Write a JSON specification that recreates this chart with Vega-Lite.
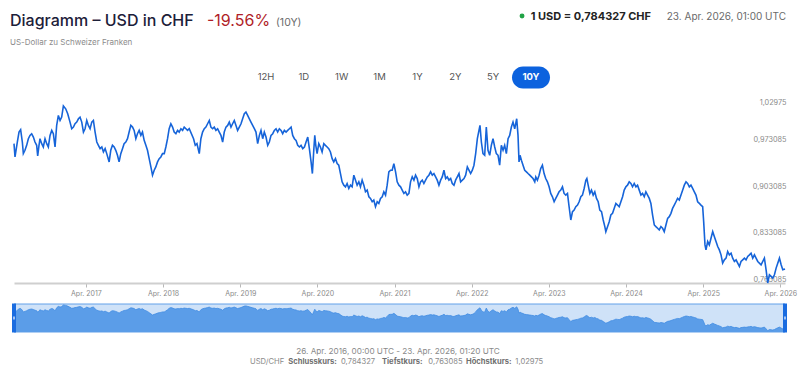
{
  "$schema": "https://vega.github.io/schema/vega-lite/v6.json",
  "width": 771,
  "height": 177,
  "autosize": {"type": "none"},
  "padding": {"left": 14, "top": 106, "right": 15, "bottom": 90},
  "background": "white",
  "config": {"view": {"stroke": null}, "font": "Inter"},
  "datasets": {
    "fx": [
      {"year": 2016.315, "rate": 0.9730}, {"year": 2016.328, "rate": 0.9530}, {"year": 2016.358, "rate": 0.9755}, {"year": 2016.380, "rate": 0.9905},
      {"year": 2016.401, "rate": 0.9940}, {"year": 2016.423, "rate": 0.9755}, {"year": 2016.436, "rate": 0.9580}, {"year": 2016.457, "rate": 0.9630},
      {"year": 2016.479, "rate": 0.9705}, {"year": 2016.501, "rate": 0.9805}, {"year": 2016.522, "rate": 0.9855}, {"year": 2016.544, "rate": 0.9880},
      {"year": 2016.566, "rate": 0.9830}, {"year": 2016.587, "rate": 0.9755}, {"year": 2016.609, "rate": 0.9705}, {"year": 2016.622, "rate": 0.9545},
      {"year": 2016.639, "rate": 0.9705}, {"year": 2016.652, "rate": 0.9805}, {"year": 2016.674, "rate": 0.9730}, {"year": 2016.695, "rate": 0.9680},
      {"year": 2016.717, "rate": 0.9805}, {"year": 2016.739, "rate": 0.9730}, {"year": 2016.760, "rate": 0.9680}, {"year": 2016.782, "rate": 0.9855},
      {"year": 2016.804, "rate": 0.9930}, {"year": 2016.825, "rate": 0.9880}, {"year": 2016.847, "rate": 0.9680}, {"year": 2016.868, "rate": 1.0005},
      {"year": 2016.890, "rate": 1.0155}, {"year": 2016.912, "rate": 1.0080}, {"year": 2016.933, "rate": 1.0130}, {"year": 2016.955, "rate": 1.02975},
      {"year": 2016.985, "rate": 1.0255}, {"year": 2017.011, "rate": 1.0180}, {"year": 2017.041, "rate": 1.0055}, {"year": 2017.063, "rate": 0.9955},
      {"year": 2017.085, "rate": 0.9980}, {"year": 2017.106, "rate": 1.0030}, {"year": 2017.128, "rate": 1.0055}, {"year": 2017.150, "rate": 1.0105},
      {"year": 2017.171, "rate": 1.0130}, {"year": 2017.193, "rate": 1.0055}, {"year": 2017.215, "rate": 0.9905}, {"year": 2017.236, "rate": 0.9955},
      {"year": 2017.258, "rate": 1.0080}, {"year": 2017.279, "rate": 1.0005}, {"year": 2017.301, "rate": 0.9955}, {"year": 2017.323, "rate": 1.0055},
      {"year": 2017.344, "rate": 1.0080}, {"year": 2017.366, "rate": 0.9905}, {"year": 2017.388, "rate": 0.9755}, {"year": 2017.409, "rate": 0.9705},
      {"year": 2017.431, "rate": 0.9655}, {"year": 2017.453, "rate": 0.9680}, {"year": 2017.474, "rate": 0.9605}, {"year": 2017.496, "rate": 0.9655},
      {"year": 2017.517, "rate": 0.9580}, {"year": 2017.548, "rate": 0.9455}, {"year": 2017.569, "rate": 0.9630}, {"year": 2017.591, "rate": 0.9705},
      {"year": 2017.613, "rate": 0.9680}, {"year": 2017.634, "rate": 0.9630}, {"year": 2017.656, "rate": 0.9555}, {"year": 2017.677, "rate": 0.9455},
      {"year": 2017.699, "rate": 0.9580}, {"year": 2017.721, "rate": 0.9655}, {"year": 2017.742, "rate": 0.9730}, {"year": 2017.764, "rate": 0.9755},
      {"year": 2017.786, "rate": 0.9805}, {"year": 2017.807, "rate": 0.9905}, {"year": 2017.829, "rate": 1.0005}, {"year": 2017.851, "rate": 0.9980},
      {"year": 2017.872, "rate": 0.9930}, {"year": 2017.894, "rate": 0.9805}, {"year": 2017.915, "rate": 0.9880}, {"year": 2017.937, "rate": 0.9930},
      {"year": 2017.959, "rate": 0.9855}, {"year": 2017.980, "rate": 0.9905}, {"year": 2018.002, "rate": 0.9780}, {"year": 2018.024, "rate": 0.9705},
      {"year": 2018.045, "rate": 0.9630}, {"year": 2018.067, "rate": 0.9505}, {"year": 2018.089, "rate": 0.9380}, {"year": 2018.110, "rate": 0.9255},
      {"year": 2018.132, "rate": 0.9330}, {"year": 2018.153, "rate": 0.9380}, {"year": 2018.175, "rate": 0.9455}, {"year": 2018.197, "rate": 0.9505},
      {"year": 2018.218, "rate": 0.9530}, {"year": 2018.240, "rate": 0.9580}, {"year": 2018.262, "rate": 0.9580}, {"year": 2018.283, "rate": 0.9680},
      {"year": 2018.305, "rate": 0.9805}, {"year": 2018.326, "rate": 0.9955}, {"year": 2018.348, "rate": 1.0030}, {"year": 2018.370, "rate": 0.9980},
      {"year": 2018.391, "rate": 0.9905}, {"year": 2018.413, "rate": 0.9880}, {"year": 2018.435, "rate": 0.9930}, {"year": 2018.456, "rate": 0.9905},
      {"year": 2018.478, "rate": 0.9955}, {"year": 2018.500, "rate": 0.9930}, {"year": 2018.521, "rate": 0.9980}, {"year": 2018.543, "rate": 0.9955},
      {"year": 2018.564, "rate": 0.9930}, {"year": 2018.586, "rate": 0.9955}, {"year": 2018.642, "rate": 0.9805}, {"year": 2018.664, "rate": 0.9705},
      {"year": 2018.686, "rate": 0.9730}, {"year": 2018.716, "rate": 0.9580}, {"year": 2018.737, "rate": 0.9805}, {"year": 2018.759, "rate": 0.9905},
      {"year": 2018.781, "rate": 0.9955}, {"year": 2018.802, "rate": 0.9980}, {"year": 2018.824, "rate": 1.0030}, {"year": 2018.846, "rate": 1.0080},
      {"year": 2018.867, "rate": 0.9980}, {"year": 2018.889, "rate": 0.9955}, {"year": 2018.910, "rate": 0.9980}, {"year": 2018.932, "rate": 0.9930},
      {"year": 2018.954, "rate": 0.9955}, {"year": 2018.975, "rate": 0.9905}, {"year": 2018.997, "rate": 0.9855}, {"year": 2019.019, "rate": 0.9755},
      {"year": 2019.040, "rate": 0.9905}, {"year": 2019.062, "rate": 0.9980}, {"year": 2019.084, "rate": 1.0005}, {"year": 2019.105, "rate": 1.0055},
      {"year": 2019.127, "rate": 0.9980}, {"year": 2019.148, "rate": 1.0030}, {"year": 2019.170, "rate": 1.0080}, {"year": 2019.192, "rate": 1.0005},
      {"year": 2019.213, "rate": 0.9930}, {"year": 2019.235, "rate": 0.9980}, {"year": 2019.257, "rate": 1.0030}, {"year": 2019.278, "rate": 1.0105},
      {"year": 2019.300, "rate": 1.0180}, {"year": 2019.321, "rate": 1.0205}, {"year": 2019.343, "rate": 1.0155}, {"year": 2019.365, "rate": 1.0105},
      {"year": 2019.386, "rate": 1.0055}, {"year": 2019.408, "rate": 1.0005}, {"year": 2019.430, "rate": 0.9955}, {"year": 2019.451, "rate": 0.9905},
      {"year": 2019.473, "rate": 0.9730}, {"year": 2019.495, "rate": 0.9855}, {"year": 2019.516, "rate": 0.9930}, {"year": 2019.538, "rate": 0.9805},
      {"year": 2019.559, "rate": 0.9905}, {"year": 2019.581, "rate": 0.9830}, {"year": 2019.603, "rate": 0.9705}, {"year": 2019.624, "rate": 0.9755},
      {"year": 2019.646, "rate": 0.9855}, {"year": 2019.668, "rate": 0.9880}, {"year": 2019.689, "rate": 0.9930}, {"year": 2019.711, "rate": 0.9955},
      {"year": 2019.732, "rate": 0.9905}, {"year": 2019.754, "rate": 0.9955}, {"year": 2019.776, "rate": 0.9930}, {"year": 2019.797, "rate": 0.9880},
      {"year": 2019.819, "rate": 0.9930}, {"year": 2019.841, "rate": 0.9905}, {"year": 2019.862, "rate": 0.9930}, {"year": 2019.884, "rate": 0.9955},
      {"year": 2019.906, "rate": 0.9980}, {"year": 2019.927, "rate": 0.9855}, {"year": 2019.949, "rate": 0.9805}, {"year": 2019.970, "rate": 0.9780},
      {"year": 2019.992, "rate": 0.9705}, {"year": 2020.014, "rate": 0.9680}, {"year": 2020.035, "rate": 0.9705}, {"year": 2020.057, "rate": 0.9655},
      {"year": 2020.079, "rate": 0.9680}, {"year": 2020.100, "rate": 0.9755}, {"year": 2020.122, "rate": 0.9830}, {"year": 2020.143, "rate": 0.9655},
      {"year": 2020.165, "rate": 0.9455}, {"year": 2020.182, "rate": 0.9280}, {"year": 2020.200, "rate": 0.9630}, {"year": 2020.213, "rate": 0.9855},
      {"year": 2020.226, "rate": 0.9705}, {"year": 2020.243, "rate": 0.9580}, {"year": 2020.265, "rate": 0.9730}, {"year": 2020.286, "rate": 0.9680},
      {"year": 2020.308, "rate": 0.9605}, {"year": 2020.330, "rate": 0.9730}, {"year": 2020.351, "rate": 0.9705}, {"year": 2020.373, "rate": 0.9680},
      {"year": 2020.394, "rate": 0.9655}, {"year": 2020.416, "rate": 0.9605}, {"year": 2020.438, "rate": 0.9505}, {"year": 2020.459, "rate": 0.9455},
      {"year": 2020.481, "rate": 0.9505}, {"year": 2020.503, "rate": 0.9430}, {"year": 2020.524, "rate": 0.9405}, {"year": 2020.546, "rate": 0.9280},
      {"year": 2020.567, "rate": 0.9155}, {"year": 2020.589, "rate": 0.9105}, {"year": 2020.611, "rate": 0.9080}, {"year": 2020.632, "rate": 0.9130},
      {"year": 2020.654, "rate": 0.9055}, {"year": 2020.676, "rate": 0.9105}, {"year": 2020.697, "rate": 0.9080}, {"year": 2020.719, "rate": 0.9255},
      {"year": 2020.741, "rate": 0.9180}, {"year": 2020.762, "rate": 0.9105}, {"year": 2020.784, "rate": 0.9155}, {"year": 2020.805, "rate": 0.9080},
      {"year": 2020.827, "rate": 0.9180}, {"year": 2020.849, "rate": 0.9105}, {"year": 2020.870, "rate": 0.9005}, {"year": 2020.892, "rate": 0.9030},
      {"year": 2020.914, "rate": 0.8930}, {"year": 2020.935, "rate": 0.8905}, {"year": 2020.957, "rate": 0.8855}, {"year": 2020.978, "rate": 0.8880},
      {"year": 2021.000, "rate": 0.8780}, {"year": 2021.022, "rate": 0.8855}, {"year": 2021.043, "rate": 0.8830}, {"year": 2021.065, "rate": 0.8905},
      {"year": 2021.087, "rate": 0.8930}, {"year": 2021.108, "rate": 0.9005}, {"year": 2021.130, "rate": 0.8955}, {"year": 2021.151, "rate": 0.9105},
      {"year": 2021.173, "rate": 0.9305}, {"year": 2021.195, "rate": 0.9330}, {"year": 2021.216, "rate": 0.9330}, {"year": 2021.238, "rate": 0.9430},
      {"year": 2021.260, "rate": 0.9305}, {"year": 2021.281, "rate": 0.9155}, {"year": 2021.303, "rate": 0.9105}, {"year": 2021.325, "rate": 0.9080},
      {"year": 2021.346, "rate": 0.9030}, {"year": 2021.368, "rate": 0.8980}, {"year": 2021.389, "rate": 0.9005}, {"year": 2021.411, "rate": 0.8955},
      {"year": 2021.433, "rate": 0.8980}, {"year": 2021.454, "rate": 0.9155}, {"year": 2021.476, "rate": 0.9230}, {"year": 2021.498, "rate": 0.9180},
      {"year": 2021.519, "rate": 0.9255}, {"year": 2021.541, "rate": 0.9205}, {"year": 2021.563, "rate": 0.9080}, {"year": 2021.584, "rate": 0.9155},
      {"year": 2021.606, "rate": 0.9180}, {"year": 2021.627, "rate": 0.9130}, {"year": 2021.649, "rate": 0.9180}, {"year": 2021.671, "rate": 0.9230},
      {"year": 2021.692, "rate": 0.9255}, {"year": 2021.714, "rate": 0.9305}, {"year": 2021.736, "rate": 0.9255}, {"year": 2021.757, "rate": 0.9280},
      {"year": 2021.779, "rate": 0.9230}, {"year": 2021.800, "rate": 0.9180}, {"year": 2021.822, "rate": 0.9105}, {"year": 2021.844, "rate": 0.9180},
      {"year": 2021.865, "rate": 0.9230}, {"year": 2021.887, "rate": 0.9330}, {"year": 2021.909, "rate": 0.9205}, {"year": 2021.930, "rate": 0.9230},
      {"year": 2021.952, "rate": 0.9180}, {"year": 2021.974, "rate": 0.9205}, {"year": 2021.995, "rate": 0.9130}, {"year": 2022.017, "rate": 0.9105},
      {"year": 2022.038, "rate": 0.9180}, {"year": 2022.060, "rate": 0.9230}, {"year": 2022.082, "rate": 0.9280}, {"year": 2022.103, "rate": 0.9155},
      {"year": 2022.125, "rate": 0.9180}, {"year": 2022.147, "rate": 0.9205}, {"year": 2022.168, "rate": 0.9255}, {"year": 2022.190, "rate": 0.9380},
      {"year": 2022.211, "rate": 0.9330}, {"year": 2022.233, "rate": 0.9280}, {"year": 2022.255, "rate": 0.9330}, {"year": 2022.276, "rate": 0.9405},
      {"year": 2022.298, "rate": 0.9580}, {"year": 2022.320, "rate": 0.9805}, {"year": 2022.341, "rate": 0.9930}, {"year": 2022.354, "rate": 1.0005},
      {"year": 2022.372, "rate": 0.9755}, {"year": 2022.393, "rate": 0.9580}, {"year": 2022.415, "rate": 0.9555}, {"year": 2022.436, "rate": 0.9980},
      {"year": 2022.458, "rate": 0.9630}, {"year": 2022.480, "rate": 0.9555}, {"year": 2022.501, "rate": 0.9705}, {"year": 2022.523, "rate": 0.9805},
      {"year": 2022.545, "rate": 0.9680}, {"year": 2022.566, "rate": 0.9580}, {"year": 2022.588, "rate": 0.9555}, {"year": 2022.609, "rate": 0.9405},
      {"year": 2022.631, "rate": 0.9705}, {"year": 2022.653, "rate": 0.9630}, {"year": 2022.674, "rate": 0.9705}, {"year": 2022.696, "rate": 0.9580},
      {"year": 2022.718, "rate": 0.9805}, {"year": 2022.739, "rate": 0.9855}, {"year": 2022.761, "rate": 0.9980}, {"year": 2022.782, "rate": 1.0055},
      {"year": 2022.804, "rate": 0.9955}, {"year": 2022.817, "rate": 1.0030}, {"year": 2022.830, "rate": 1.0105}, {"year": 2022.847, "rate": 0.9855},
      {"year": 2022.860, "rate": 0.9455}, {"year": 2022.873, "rate": 0.9555}, {"year": 2022.891, "rate": 0.9480}, {"year": 2022.912, "rate": 0.9405},
      {"year": 2022.934, "rate": 0.9330}, {"year": 2022.956, "rate": 0.9305}, {"year": 2022.977, "rate": 0.9280}, {"year": 2022.999, "rate": 0.9255},
      {"year": 2023.021, "rate": 0.9230}, {"year": 2023.042, "rate": 0.9205}, {"year": 2023.064, "rate": 0.9155}, {"year": 2023.077, "rate": 0.9230},
      {"year": 2023.098, "rate": 0.9180}, {"year": 2023.120, "rate": 0.9255}, {"year": 2023.141, "rate": 0.9355}, {"year": 2023.163, "rate": 0.9405},
      {"year": 2023.185, "rate": 0.9280}, {"year": 2023.206, "rate": 0.9205}, {"year": 2023.228, "rate": 0.9155}, {"year": 2023.250, "rate": 0.9080},
      {"year": 2023.271, "rate": 0.8980}, {"year": 2023.293, "rate": 0.8930}, {"year": 2023.315, "rate": 0.8855}, {"year": 2023.336, "rate": 0.8905},
      {"year": 2023.358, "rate": 0.8955}, {"year": 2023.379, "rate": 0.9005}, {"year": 2023.401, "rate": 0.9030}, {"year": 2023.423, "rate": 0.9080},
      {"year": 2023.444, "rate": 0.8980}, {"year": 2023.466, "rate": 0.8955}, {"year": 2023.488, "rate": 0.8980}, {"year": 2023.509, "rate": 0.8780},
      {"year": 2023.531, "rate": 0.8580}, {"year": 2023.553, "rate": 0.8705}, {"year": 2023.574, "rate": 0.8730}, {"year": 2023.596, "rate": 0.8780},
      {"year": 2023.618, "rate": 0.8805}, {"year": 2023.639, "rate": 0.8855}, {"year": 2023.661, "rate": 0.8930}, {"year": 2023.682, "rate": 0.8955},
      {"year": 2023.704, "rate": 0.9055}, {"year": 2023.726, "rate": 0.9180}, {"year": 2023.739, "rate": 0.9205}, {"year": 2023.756, "rate": 0.9105},
      {"year": 2023.778, "rate": 0.8980}, {"year": 2023.799, "rate": 0.9030}, {"year": 2023.821, "rate": 0.8955}, {"year": 2023.842, "rate": 0.9005},
      {"year": 2023.864, "rate": 0.8905}, {"year": 2023.886, "rate": 0.8855}, {"year": 2023.907, "rate": 0.8730}, {"year": 2023.929, "rate": 0.8705},
      {"year": 2023.951, "rate": 0.8580}, {"year": 2023.972, "rate": 0.8480}, {"year": 2023.985, "rate": 0.8405}, {"year": 2024.007, "rate": 0.8480},
      {"year": 2024.029, "rate": 0.8555}, {"year": 2024.050, "rate": 0.8655}, {"year": 2024.072, "rate": 0.8680}, {"year": 2024.093, "rate": 0.8755},
      {"year": 2024.115, "rate": 0.8830}, {"year": 2024.137, "rate": 0.8805}, {"year": 2024.158, "rate": 0.8780}, {"year": 2024.180, "rate": 0.8855},
      {"year": 2024.202, "rate": 0.8930}, {"year": 2024.223, "rate": 0.9030}, {"year": 2024.245, "rate": 0.9080}, {"year": 2024.266, "rate": 0.9105},
      {"year": 2024.288, "rate": 0.9155}, {"year": 2024.310, "rate": 0.9130}, {"year": 2024.331, "rate": 0.9080}, {"year": 2024.353, "rate": 0.9130},
      {"year": 2024.375, "rate": 0.9080}, {"year": 2024.396, "rate": 0.9105}, {"year": 2024.418, "rate": 0.9030}, {"year": 2024.440, "rate": 0.8955},
      {"year": 2024.461, "rate": 0.8980}, {"year": 2024.483, "rate": 0.8930}, {"year": 2024.504, "rate": 0.9005}, {"year": 2024.526, "rate": 0.8955},
      {"year": 2024.548, "rate": 0.8905}, {"year": 2024.569, "rate": 0.8830}, {"year": 2024.591, "rate": 0.8655}, {"year": 2024.613, "rate": 0.8505},
      {"year": 2024.634, "rate": 0.8480}, {"year": 2024.656, "rate": 0.8455}, {"year": 2024.677, "rate": 0.8430}, {"year": 2024.699, "rate": 0.8480},
      {"year": 2024.721, "rate": 0.8455}, {"year": 2024.742, "rate": 0.8405}, {"year": 2024.764, "rate": 0.8505}, {"year": 2024.786, "rate": 0.8605},
      {"year": 2024.807, "rate": 0.8630}, {"year": 2024.829, "rate": 0.8680}, {"year": 2024.850, "rate": 0.8755}, {"year": 2024.872, "rate": 0.8805},
      {"year": 2024.894, "rate": 0.8855}, {"year": 2024.915, "rate": 0.8905}, {"year": 2024.937, "rate": 0.8880}, {"year": 2024.959, "rate": 0.8955},
      {"year": 2024.980, "rate": 0.9030}, {"year": 2025.002, "rate": 0.9105}, {"year": 2025.024, "rate": 0.9155}, {"year": 2025.045, "rate": 0.9130},
      {"year": 2025.067, "rate": 0.9080}, {"year": 2025.088, "rate": 0.9105}, {"year": 2025.110, "rate": 0.9055}, {"year": 2025.132, "rate": 0.9005},
      {"year": 2025.153, "rate": 0.8955}, {"year": 2025.175, "rate": 0.8855}, {"year": 2025.197, "rate": 0.8830}, {"year": 2025.218, "rate": 0.8805},
      {"year": 2025.240, "rate": 0.8780}, {"year": 2025.253, "rate": 0.8555}, {"year": 2025.270, "rate": 0.8205}, {"year": 2025.283, "rate": 0.8130},
      {"year": 2025.305, "rate": 0.8255}, {"year": 2025.326, "rate": 0.8205}, {"year": 2025.348, "rate": 0.8305}, {"year": 2025.370, "rate": 0.8405},
      {"year": 2025.391, "rate": 0.8330}, {"year": 2025.413, "rate": 0.8255}, {"year": 2025.435, "rate": 0.8180}, {"year": 2025.456, "rate": 0.8130},
      {"year": 2025.478, "rate": 0.8055}, {"year": 2025.499, "rate": 0.7930}, {"year": 2025.521, "rate": 0.7980}, {"year": 2025.543, "rate": 0.8005},
      {"year": 2025.564, "rate": 0.8105}, {"year": 2025.586, "rate": 0.8055}, {"year": 2025.608, "rate": 0.8080}, {"year": 2025.629, "rate": 0.8005},
      {"year": 2025.651, "rate": 0.7955}, {"year": 2025.673, "rate": 0.7980}, {"year": 2025.694, "rate": 0.7930}, {"year": 2025.716, "rate": 0.7880},
      {"year": 2025.737, "rate": 0.7955}, {"year": 2025.759, "rate": 0.7980}, {"year": 2025.781, "rate": 0.8005}, {"year": 2025.802, "rate": 0.7980},
      {"year": 2025.824, "rate": 0.8030}, {"year": 2025.846, "rate": 0.8055}, {"year": 2025.867, "rate": 0.8080}, {"year": 2025.889, "rate": 0.8005},
      {"year": 2025.911, "rate": 0.8055}, {"year": 2025.932, "rate": 0.8005}, {"year": 2025.954, "rate": 0.7955}, {"year": 2025.975, "rate": 0.7930},
      {"year": 2025.997, "rate": 0.7905}, {"year": 2026.019, "rate": 0.7955}, {"year": 2026.040, "rate": 0.8005}, {"year": 2026.062, "rate": 0.7830},
      {"year": 2026.083, "rate": 0.763085}, {"year": 2026.105, "rate": 0.7755}, {"year": 2026.127, "rate": 0.7730}, {"year": 2026.148, "rate": 0.7705},
      {"year": 2026.170, "rate": 0.7755}, {"year": 2026.192, "rate": 0.7855}, {"year": 2026.213, "rate": 0.7930}, {"year": 2026.235, "rate": 0.8005},
      {"year": 2026.257, "rate": 0.7905}, {"year": 2026.278, "rate": 0.7830}, {"year": 2026.307, "rate": 0.784327}
    ],
    "labels": [
      {"item": "title", "text": "Diagramm – USD in CHF"},
      {"item": "subtitle", "text": "US-Dollar zu Schweizer Franken"},
      {"item": "change", "text": "-19.56%"},
      {"item": "period", "text": "(10Y)"},
      {"item": "quote", "text": "1 USD = 0,784327 CHF"},
      {"item": "time", "text": "23. Apr. 2026, 01:00 UTC"},
      {"item": "span", "text": "26. Apr. 2016, 00:00 UTC - 23. Apr. 2026, 01:20 UTC"},
      {"item": "pair", "text": "USD/CHF"},
      {"item": "closeLabel", "text": "Schlusskurs:"},
      {"item": "closeValue", "text": "0,784327"},
      {"item": "lowLabel", "text": "Tiefstkurs:"},
      {"item": "lowValue", "text": "0,763085"},
      {"item": "highLabel", "text": "Höchstkurs:"},
      {"item": "highValue", "text": "1,02975"}
    ],
    "ranges": [
      {"label": "12H"}, {"label": "1D"}, {"label": "1W"}, {"label": "1M"},
      {"label": "1Y"}, {"label": "2Y"}, {"label": "5Y"}, {"label": "10Y"}
    ]
  },
  "resolve": {"scale": {"x": "independent", "y": "independent"}},
  "layer": [
    {
      "layer": [
        {
          "data": {"name": "fx"},
          "mark": {"type": "line", "color": "#1664d9", "strokeWidth": 1.6},
          "encoding": {
            "x": {
              "field": "year", "type": "quantitative",
              "scale": {"domain": [2016.315, 2026.307], "nice": false, "zero": false},
              "axis": {
                "values": [2017.247, 2018.247, 2019.247, 2020.247, 2021.247, 2022.247, 2023.247, 2024.247, 2025.247, 2026.247],
                "labelExpr": "'Apr. ' + floor(datum.value)",
                "title": null, "grid": false,
                "domainColor": "#cfcfcf", "domainWidth": 2,
                "tickColor": "#b8b8b8", "tickSize": 4, "tickWidth": 1,
                "labelColor": "#8a8a8a", "labelFontSize": 7, "labelPadding": 2, "labelFlush": false
              }
            },
            "y": {
              "field": "rate", "type": "quantitative",
              "scale": {"domain": [0.763085, 1.02975], "nice": false, "zero": false},
              "axis": {
                "orient": "right",
                "values": [0.763085, 0.833085, 0.903085, 0.973085, 1.02975],
                "labelExpr": "replace(format(datum.value, '.6~f'), '.', ',')",
                "title": null, "grid": false, "domain": false, "ticks": false,
                "labelAlign": "right", "labelBaseline": "bottom", "labelPadding": 1,
                "labelColor": "#8a8a8a", "labelFontSize": 7.3
              }
            }
          }
        },
        {
          "data": {"name": "labels"},
          "transform": [{"filter": "datum.item === 'title'"}],
          "mark": {"type": "text", "align": "left", "baseline": "alphabetic", "fontSize": 16, "fontWeight": 500, "color": "#1c2039"},
          "encoding": {
            "x": {"datum": 2016.263, "type": "quantitative"},
            "y": {"datum": 1.15028, "type": "quantitative"},
            "text": {"field": "text"}
          }
        },
        {
          "data": {"name": "labels"},
          "transform": [{"filter": "datum.item === 'subtitle'"}],
          "mark": {"type": "text", "align": "left", "baseline": "alphabetic", "fontSize": 8, "color": "#8c8c8c"},
          "encoding": {
            "x": {"datum": 2016.263, "type": "quantitative"},
            "y": {"datum": 1.12195, "type": "quantitative"},
            "text": {"field": "text"}
          }
        },
        {
          "data": {"name": "labels"},
          "transform": [{"filter": "datum.item === 'change'"}],
          "mark": {"type": "text", "align": "left", "baseline": "alphabetic", "fontSize": 16, "color": "#b01e28"},
          "encoding": {
            "x": {"datum": 2018.816, "type": "quantitative"},
            "y": {"datum": 1.15028, "type": "quantitative"},
            "text": {"field": "text"}
          }
        },
        {
          "data": {"name": "labels"},
          "transform": [{"filter": "datum.item === 'period'"}],
          "mark": {"type": "text", "align": "left", "baseline": "alphabetic", "fontSize": 10.5, "color": "#6b6b6b"},
          "encoding": {
            "x": {"datum": 2019.711, "type": "quantitative"},
            "y": {"datum": 1.15028, "type": "quantitative"},
            "text": {"field": "text"}
          }
        },
        {
          "data": {"name": "labels"},
          "transform": [{"filter": "datum.item === 'quote'"}],
          "mark": {"type": "circle", "size": 24, "color": "#21a346", "opacity": 1},
          "encoding": {
            "x": {"datum": 2022.899, "type": "quantitative"},
            "y": {"datum": 1.16534, "type": "quantitative"}
          }
        },
        {
          "data": {"name": "labels"},
          "transform": [{"filter": "datum.item === 'quote'"}],
          "mark": {"type": "text", "align": "right", "baseline": "alphabetic", "fontSize": 11, "fontWeight": "bold", "color": "#232323"},
          "encoding": {
            "x": {"datum": 2024.571, "type": "quantitative"},
            "y": {"datum": 1.15932, "type": "quantitative"},
            "text": {"field": "text"}
          }
        },
        {
          "data": {"name": "labels"},
          "transform": [{"filter": "datum.item === 'time'"}],
          "mark": {"type": "text", "align": "right", "baseline": "alphabetic", "fontSize": 10, "color": "#6a6a6a"},
          "encoding": {
            "x": {"datum": 2026.320, "type": "quantitative"},
            "y": {"datum": 1.15932, "type": "quantitative"},
            "text": {"field": "text"}
          }
        },
        {
          "data": {"name": "labels"},
          "transform": [{"filter": "datum.item === 'span'"}],
          "mark": {"type": "text", "align": "center", "baseline": "alphabetic", "fontSize": 8.2, "color": "#8a8a8a"},
          "encoding": {
            "x": {"datum": 2021.292, "type": "quantitative"},
            "y": {"datum": 0.65687, "type": "quantitative"},
            "text": {"field": "text"}
          }
        },
        {
          "data": {"name": "labels"},
          "transform": [{"filter": "datum.item === 'pair'"}],
          "mark": {"type": "text", "align": "left", "baseline": "alphabetic", "fontSize": 7.6, "color": "#8a8a8a"},
          "encoding": {"x": {"datum": 2019.374, "type": "quantitative"}, "y": {"datum": 0.64105, "type": "quantitative"}, "text": {"field": "text"}}
        },
        {
          "data": {"name": "labels"},
          "transform": [{"filter": "datum.item === 'closeLabel'"}],
          "mark": {"type": "text", "align": "left", "baseline": "alphabetic", "fontSize": 7.6, "fontWeight": "bold", "color": "#6f6f6f"},
          "encoding": {"x": {"datum": 2019.870, "type": "quantitative"}, "y": {"datum": 0.64105, "type": "quantitative"}, "text": {"field": "text"}}
        },
        {
          "data": {"name": "labels"},
          "transform": [{"filter": "datum.item === 'closeValue'"}],
          "mark": {"type": "text", "align": "left", "baseline": "alphabetic", "fontSize": 7.6, "color": "#8a8a8a"},
          "encoding": {"x": {"datum": 2020.553, "type": "quantitative"}, "y": {"datum": 0.64105, "type": "quantitative"}, "text": {"field": "text"}}
        },
        {
          "data": {"name": "labels"},
          "transform": [{"filter": "datum.item === 'lowLabel'"}],
          "mark": {"type": "text", "align": "left", "baseline": "alphabetic", "fontSize": 7.6, "fontWeight": "bold", "color": "#6f6f6f"},
          "encoding": {"x": {"datum": 2021.084, "type": "quantitative"}, "y": {"datum": 0.64105, "type": "quantitative"}, "text": {"field": "text"}}
        },
        {
          "data": {"name": "labels"},
          "transform": [{"filter": "datum.item === 'lowValue'"}],
          "mark": {"type": "text", "align": "left", "baseline": "alphabetic", "fontSize": 7.6, "color": "#8a8a8a"},
          "encoding": {"x": {"datum": 2021.684, "type": "quantitative"}, "y": {"datum": 0.64105, "type": "quantitative"}, "text": {"field": "text"}}
        },
        {
          "data": {"name": "labels"},
          "transform": [{"filter": "datum.item === 'highLabel'"}],
          "mark": {"type": "text", "align": "left", "baseline": "alphabetic", "fontSize": 7.6, "fontWeight": "bold", "color": "#6f6f6f"},
          "encoding": {"x": {"datum": 2022.173, "type": "quantitative"}, "y": {"datum": 0.64105, "type": "quantitative"}, "text": {"field": "text"}}
        },
        {
          "data": {"name": "labels"},
          "transform": [{"filter": "datum.item === 'highValue'"}],
          "mark": {"type": "text", "align": "left", "baseline": "alphabetic", "fontSize": 7.6, "color": "#8a8a8a"},
          "encoding": {"x": {"datum": 2022.812, "type": "quantitative"}, "y": {"datum": 0.64105, "type": "quantitative"}, "text": {"field": "text"}}
        }
      ]
    },
    {
      "data": {"name": "fx"},
      "layer": [
        {
          "mark": {"type": "rect", "fill": "#cfe2f8", "stroke": "#62a0e8", "strokeWidth": 1},
          "encoding": {
            "x": {"aggregate": "min", "field": "year", "type": "quantitative", "scale": {"domain": [2016.315, 2026.307], "nice": false, "zero": false}, "axis": null},
            "x2": {"aggregate": "max", "field": "year"},
            "y": {"datum": 0.75, "type": "quantitative", "scale": {"domain": [0.75, 1.04], "range": [226, 198], "nice": false, "zero": false}, "axis": null},
            "y2": {"datum": 1.04}
          }
        },
        {
          "mark": {"type": "area", "color": "#5b9de8", "opacity": 1, "line": {"color": "#408be2", "strokeWidth": 0.8}},
          "encoding": {
            "x": {"field": "year", "type": "quantitative"},
            "y": {"field": "rate", "type": "quantitative"},
            "y2": {"datum": 0.75}
          }
        },
        {
          "mark": {"type": "rule", "color": "#1a6ce0", "strokeWidth": 4},
          "encoding": {
            "x": {"aggregate": "min", "field": "year", "type": "quantitative"},
            "y": {"datum": 0.745, "type": "quantitative"},
            "y2": {"datum": 1.045}
          }
        },
        {
          "mark": {"type": "rule", "color": "#1a6ce0", "strokeWidth": 4},
          "encoding": {
            "x": {"aggregate": "max", "field": "year", "type": "quantitative"},
            "y": {"datum": 0.745, "type": "quantitative"},
            "y2": {"datum": 1.045}
          }
        },
        {
          "mark": {"type": "rule", "color": "#ffffff", "strokeWidth": 1.2},
          "encoding": {
            "x": {"aggregate": "min", "field": "year", "type": "quantitative"},
            "y": {"datum": 0.88, "type": "quantitative"},
            "y2": {"datum": 0.91}
          }
        },
        {
          "mark": {"type": "rule", "color": "#ffffff", "strokeWidth": 1.2},
          "encoding": {
            "x": {"aggregate": "max", "field": "year", "type": "quantitative"},
            "y": {"datum": 0.88, "type": "quantitative"},
            "y2": {"datum": 0.91}
          }
        }
      ]
    },
    {
      "data": {"name": "ranges"},
      "layer": [
        {
          "transform": [{"filter": "datum.label === '10Y'"}],
          "mark": {
            "type": "point", "filled": true, "opacity": 1, "color": "#0c62de", "size": 1444, "strokeWidth": 0,
            "shape": "M -0.421 -0.579 L 0.421 -0.579 A 0.579 0.579 0 0 1 0.421 0.579 L -0.421 0.579 A 0.579 0.579 0 0 1 -0.421 -0.579 Z"
          },
          "encoding": {
            "x": {
              "field": "label", "type": "nominal",
              "scale": {"type": "point", "domain": ["12H", "1D", "1W", "1M", "1Y", "2Y", "5Y", "10Y"], "range": [252, 517], "padding": 0},
              "axis": null
            },
            "y": {"datum": 1.07269, "type": "quantitative", "scale": {"domain": [0.763085, 1.02975], "nice": false, "zero": false}, "axis": null}
          }
        },
        {
          "transform": [{"filter": "datum.label !== '10Y'"}],
          "mark": {"type": "text", "baseline": "middle", "align": "center", "fontSize": 9.5, "color": "#555555"},
          "encoding": {
            "x": {"field": "label", "type": "nominal"},
            "y": {"datum": 1.07269, "type": "quantitative"},
            "text": {"field": "label"}
          }
        },
        {
          "transform": [{"filter": "datum.label === '10Y'"}],
          "mark": {"type": "text", "baseline": "middle", "align": "center", "fontSize": 9.5, "fontWeight": "bold", "color": "#ffffff"},
          "encoding": {
            "x": {"field": "label", "type": "nominal"},
            "y": {"datum": 1.07269, "type": "quantitative"},
            "text": {"field": "label"}
          }
        }
      ]
    }
  ]
}
